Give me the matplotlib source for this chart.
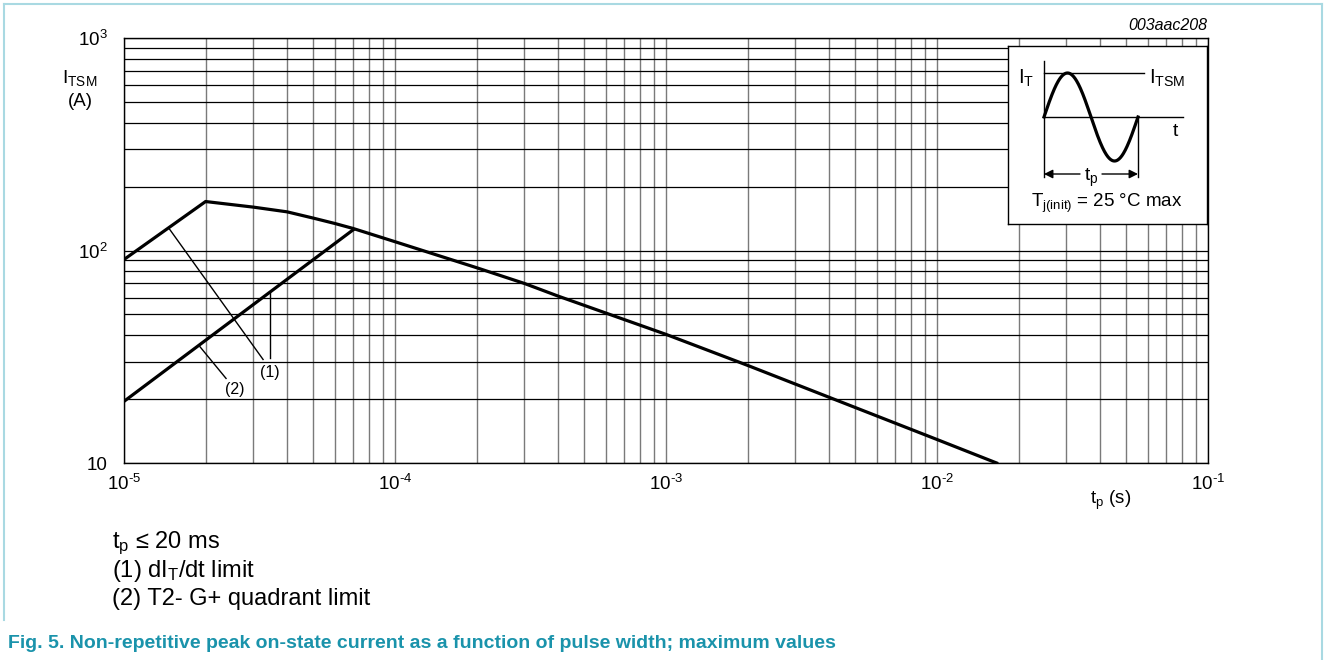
import numpy as np
import matplotlib
matplotlib.use("Agg")
import matplotlib.pyplot as plt
from matplotlib.ticker import LogLocator, NullFormatter
from matplotlib.lines import Line2D

plt.rcParams['font.family'] = ['Liberation Sans', 'DejaVu Sans']
plt.rcParams['mathtext.fontset'] = 'custom'
plt.rcParams['mathtext.rm'] = 'Liberation Sans'
plt.rcParams['mathtext.it'] = 'Liberation Sans:italic'

# main limit curve
curve_t = [1e-5, 2e-5, 3e-5, 4e-5, 5e-5, 6e-5, 7e-5, 1e-4, 2e-4, 3e-4, 4e-4, 1e-3, 2e-3, 1e-2, 1.66e-2]
curve_i = [90.7, 170, 160, 152, 142, 134, 127, 110, 83, 70, 61, 40.3, 28.8, 12.9, 10]

# lower quadrant limit line
quad_t = [1e-5, 7e-5]
quad_i = [19.5, 125]

# leader lines for the (1) / (2) labels
lead1a_t = [1.466e-5, 3.26e-5]
lead1a_i = [127, 30.7]
lead1b_t = [3.46e-5, 3.46e-5]
lead1b_i = [63.4, 31.3]
lead2_t = [1.905e-5, 2.38e-5]
lead2_i = [35.3, 25.0]
label1_pos = (3.46e-5, 26.7)
label2_pos = (2.57e-5, 22.2)

x_ticks = [1e-5, 1e-4, 1e-3, 1e-2, 1e-1]
x_labels = ['$\\mathregular{10^{\\text{-5}}}$', '$\\mathregular{10^{\\text{-4}}}$',
            '$\\mathregular{10^{\\text{-3}}}$', '$\\mathregular{10^{\\text{-2}}}$',
            '$\\mathregular{10^{\\text{-1}}}$']
y_ticks = [10, 100, 1000]
y_labels = ['10', '$\\mathregular{10^{2}}$', '$\\mathregular{10^{3}}$']

W, H = 1327, 660
fig = plt.figure(figsize=(W / 100, H / 100), dpi=100)


def fx(px):
    return px / W


def fy(py):
    return 1 - py / H


ax = fig.add_axes([fx(124), fy(463), fx(1208 - 124), (463 - 38) / H])
ax.set_xscale('log')
ax.set_yscale('log')
ax.set_xlim(1e-5, 1e-1)
ax.set_ylim(10, 1000)

ax.xaxis.set_minor_locator(LogLocator(base=10, subs=range(2, 10)))
ax.yaxis.set_minor_locator(LogLocator(base=10, subs=range(2, 10)))
ax.xaxis.set_minor_formatter(NullFormatter())
ax.yaxis.set_minor_formatter(NullFormatter())
ax.set_xticks(x_ticks)
ax.set_xticklabels(x_labels)
ax.set_yticks(y_ticks)
ax.set_yticklabels(y_labels)
ax.tick_params(which='both', length=0, labelsize=13.5)
ax.tick_params(axis='x', pad=8)
ax.tick_params(axis='y', pad=12)

ax.grid(True, which='both', axis='x', color='#7a7a7a', lw=1.0)
ax.grid(True, which='both', axis='y', color='black', lw=0.9)
ax.set_axisbelow(True)
for s in ax.spines.values():
    s.set_color('black')
    s.set_linewidth(1.0)

ax.plot(curve_t, curve_i, color='black', lw=2.3, solid_joinstyle='miter')
ax.plot(quad_t, quad_i, color='black', lw=2.3)
ax.plot(lead1a_t, lead1a_i, color='black', lw=1.0)
ax.plot(lead1b_t, lead1b_i, color='black', lw=1.0)
ax.plot(lead2_t, lead2_i, color='black', lw=1.0)
ax.text(*label1_pos, '(1)', fontsize=11.5, ha='center', va='center')
ax.text(*label2_pos, '(2)', fontsize=11.5, ha='center', va='center')

# axis titles
fig.text(fx(80), fy(78), '$\\mathregular{I_{TSM}}$', fontsize=14, ha='center', va='center')
fig.text(fx(80), fy(102), '(A)', fontsize=13.5, ha='center', va='center')
fig.text(fx(1111), fy(500), '$\\mathregular{t_p}$ (s)', fontsize=13.5, ha='center', va='center')
fig.text(fx(1207), fy(25), '003aac208', fontsize=11.5, style='italic', ha='right', va='center')

# inset waveform sketch
inset = fig.add_axes([fx(1008), fy(224), fx(1207 - 1008), (224 - 46) / H])
inset.set_xlim(0, 199)
inset.set_ylim(0, 178)
inset.set_xticks([])
inset.set_yticks([])
inset.set_facecolor('white')
for s in inset.spines.values():
    s.set_color('black')
    s.set_linewidth(1.0)
inset.plot([36, 36], [163, 47], color='black', lw=1.0)
inset.plot([36, 175], [107, 107], color='black', lw=1.0)
inset.plot([36, 136], [151, 151], color='black', lw=1.0)
inset.plot([130, 130], [107, 47], color='black', lw=1.0)
ph = np.linspace(0, 2 * np.pi, 200)
inset.plot(36 + (130 - 36) * ph / (2 * np.pi), 107 + 44 * np.sin(ph), color='black', lw=2.3)
arrow = dict(arrowstyle='-|>', lw=1.0, color='black', shrinkA=0, shrinkB=0, mutation_scale=13)
inset.annotate('', xy=(36, 50), xytext=(72, 50), arrowprops=arrow)
inset.annotate('', xy=(130, 50), xytext=(94, 50), arrowprops=arrow)
inset.text(83, 46, '$\\mathregular{t_p}$', fontsize=14, ha='center', va='center')
inset.text(10, 146, '$\\mathregular{I_T}$', fontsize=14.5, ha='left', va='center')
inset.text(141, 146, '$\\mathregular{I_{TSM}}$', fontsize=14.5, ha='left', va='center')
inset.text(167, 92, 't', fontsize=14, ha='center', va='center')
inset.text(99, 21, '$\\mathregular{T_{j(init)}}$ = 25 °C max', fontsize=13.5, ha='center', va='center')

# notes below the chart
fig.text(fx(112), fy(548), '$\\mathregular{t_p}$ ≤ 20 ms', fontsize=17, ha='left', va='baseline')
fig.text(fx(112), fy(577), '(1) d$\\mathregular{I_T}$/dt limit', fontsize=17, ha='left', va='baseline')
fig.text(fx(112), fy(605), '(2) T2- G+ quadrant limit', fontsize=17, ha='left', va='baseline')
fig.text(fx(8), fy(648),
         'Fig. 5. Non-repetitive peak on-state current as a function of pulse width; maximum values',
         fontsize=14, fontweight='bold', color='#1a93ab', ha='left', va='baseline')

# light frame around the figure
frame_col = '#a9d9e2'
fig.add_artist(Line2D([fx(4), fx(4)], [fy(4), fy(620)], color=frame_col, lw=1.5))
fig.add_artist(Line2D([fx(4), fx(1322)], [fy(4), fy(4)], color=frame_col, lw=1.5))
fig.add_artist(Line2D([fx(1322), fx(1322)], [fy(4), fy(660)], color=frame_col, lw=1.5))

fig.savefig('out.png', dpi=100)
